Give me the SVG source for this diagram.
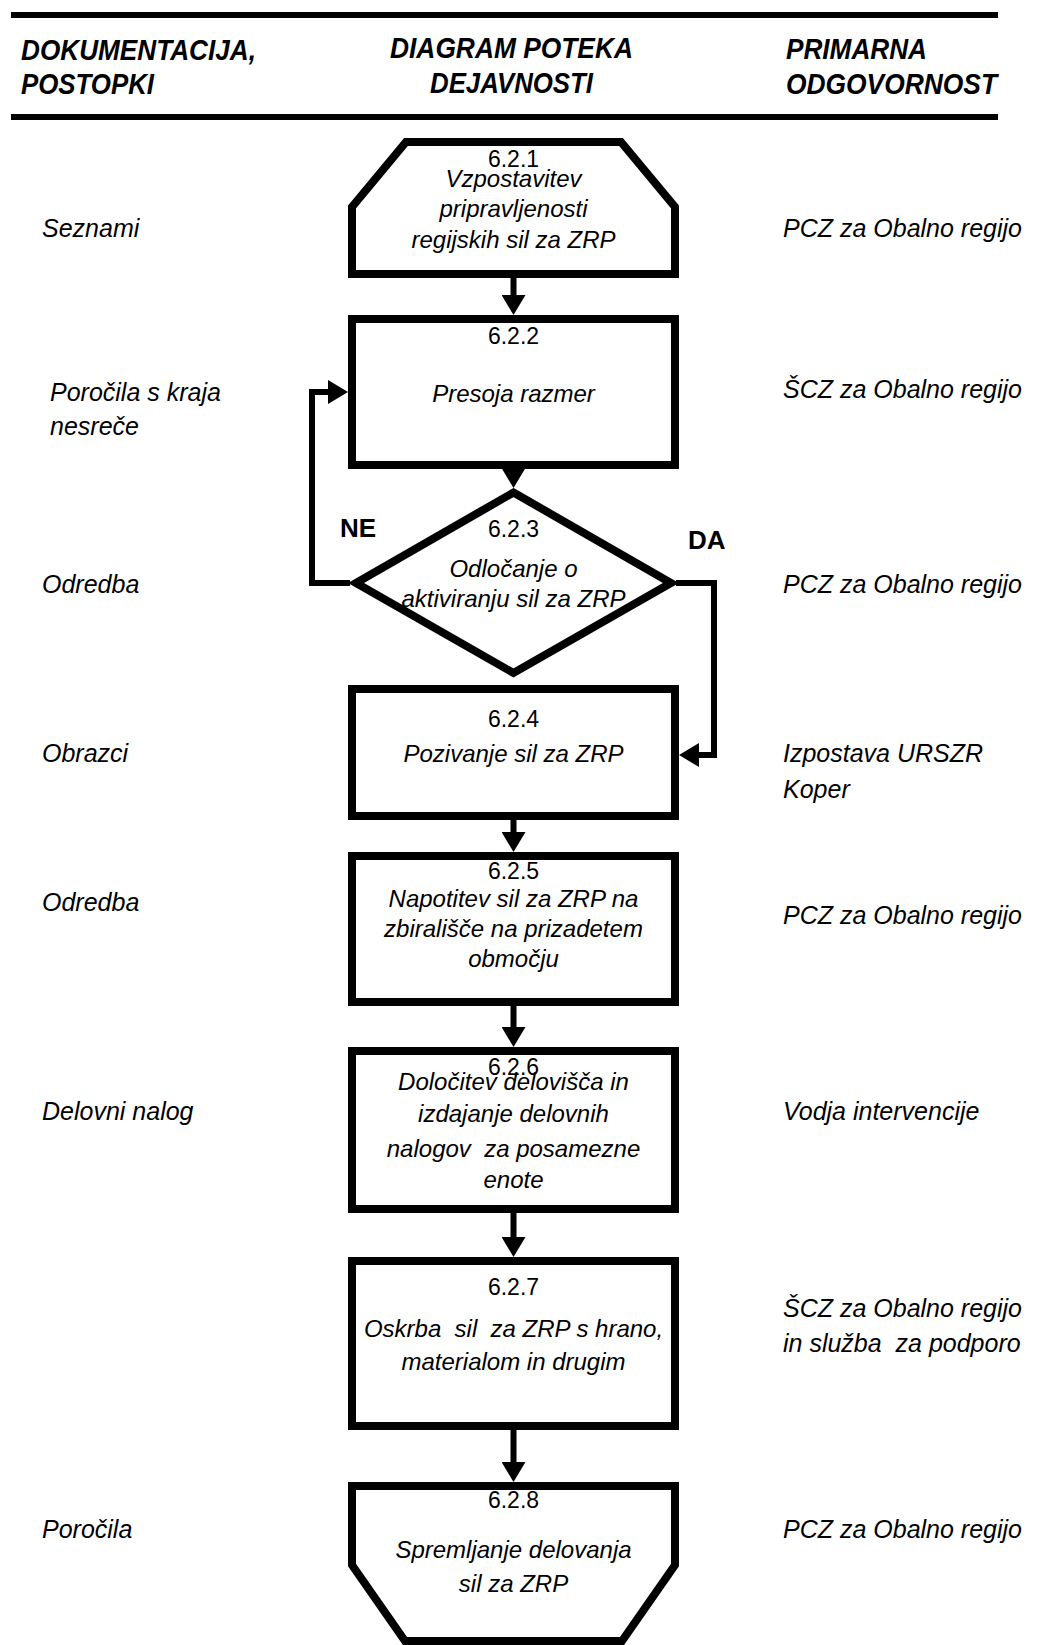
<svg xmlns="http://www.w3.org/2000/svg" width="1037" height="1645" viewBox="0 0 1037 1645">
<style>
text{font-family:"Liberation Sans",Arial,sans-serif;fill:#000}
.hd{font-size:30px;font-weight:bold;font-style:italic}
.col{font-size:25px;font-style:italic}
.nt{font-size:24px;font-style:italic;text-anchor:middle}
.num{font-size:23px;text-anchor:middle}
.lbl{font-size:26px;font-weight:bold}
.shape{fill:#fff;stroke:#000;stroke-width:8;stroke-linejoin:miter;stroke-miterlimit:10}
.con{fill:none;stroke:#000;stroke-width:6;stroke-linejoin:miter}
.rule{stroke:#000;stroke-width:6}
</style>
<defs>
<marker id="ah" markerUnits="userSpaceOnUse" markerWidth="21" markerHeight="24" refX="10" refY="12" orient="auto">
<path d="M0,0 L20,12 L0,24 z" fill="#000"/>
</marker>
</defs>
<rect width="1037" height="1645" fill="#fff"/>
<g id="header">
<line class="rule" x1="11" y1="15" x2="998" y2="15"/>
<line class="rule" x1="11" y1="117" x2="998" y2="117"/>
<text class="hd" x="21" y="60" textLength="235" lengthAdjust="spacingAndGlyphs">DOKUMENTACIJA,</text>
<text class="hd" x="21" y="94" textLength="133" lengthAdjust="spacingAndGlyphs">POSTOPKI</text>
<text class="hd" x="390" y="58" textLength="243" lengthAdjust="spacingAndGlyphs">DIAGRAM POTEKA</text>
<text class="hd" x="430" y="93" textLength="163" lengthAdjust="spacingAndGlyphs">DEJAVNOSTI</text>
<text class="hd" x="786" y="59" textLength="141" lengthAdjust="spacingAndGlyphs">PRIMARNA</text>
<text class="hd" x="786" y="94" textLength="211" lengthAdjust="spacingAndGlyphs">ODGOVORNOST</text>
</g>
<g id="connectors">
<line class="con" x1="513.5" y1="278" x2="513.5" y2="305" marker-end="url(#ah)"/>
<line class="con" x1="513.5" y1="469" x2="513.5" y2="478" marker-end="url(#ah)"/>
<polyline class="con" points="350,583 312,583 312,392 338,392" marker-end="url(#ah)"/>
<polyline class="con" points="676,583 714,583 714,755 689,755" marker-end="url(#ah)"/>
<line class="con" x1="513.5" y1="820" x2="513.5" y2="842" marker-end="url(#ah)"/>
<line class="con" x1="513.5" y1="1006" x2="513.5" y2="1037" marker-end="url(#ah)"/>
<line class="con" x1="513.5" y1="1213" x2="513.5" y2="1247" marker-end="url(#ah)"/>
<line class="con" x1="513.5" y1="1430" x2="513.5" y2="1472" marker-end="url(#ah)"/>
<text class="lbl" x="340" y="537">NE</text>
<text class="lbl" x="688" y="549">DA</text>
</g>
<g id="n621">
<polygon class="shape" points="352,274 352,207 406,142 621,142 675,207 675,274"/>
<text class="num" x="513.5" y="167">6.2.1</text>
<text class="nt" x="513.5" y="187">Vzpostavitev</text>
<text class="nt" x="513.5" y="217">pripravljenosti</text>
<text class="nt" x="513.5" y="248">regijskih sil za ZRP</text>
</g>
<g id="n622">
<rect class="shape" x="352" y="319" width="323" height="146"/>
<text class="num" x="513.5" y="344">6.2.2</text>
<text class="nt" x="513.5" y="402">Presoja razmer</text>
</g>
<g id="n623">
<polygon class="shape" points="513.5,492.5 671,583 513.5,673 356,583"/>
<text class="num" x="513.5" y="537">6.2.3</text>
<text class="nt" x="513.5" y="577">Odločanje o</text>
<text class="nt" x="513.5" y="607">aktiviranju sil za ZRP</text>
</g>
<g id="n624">
<rect class="shape" x="352" y="689" width="323" height="127"/>
<text class="num" x="513.5" y="727">6.2.4</text>
<text class="nt" x="513.5" y="762">Pozivanje sil za ZRP</text>
</g>
<g id="n625">
<rect class="shape" x="352" y="856" width="323" height="146"/>
<text class="num" x="513.5" y="879">6.2.5</text>
<text class="nt" x="513.5" y="907">Napotitev sil za ZRP na</text>
<text class="nt" x="513.5" y="937">zbirališče na prizadetem</text>
<text class="nt" x="513.5" y="967">območju</text>
</g>
<g id="n626">
<rect class="shape" x="352" y="1051" width="323" height="158"/>
<text class="num" x="513.5" y="1075">6.2.6</text>
<text class="nt" x="513.5" y="1090">Določitev delovišča in</text>
<text class="nt" x="513.5" y="1122">izdajanje delovnih</text>
<text class="nt" x="513.5" y="1157" xml:space="preserve">nalogov  za posamezne</text>
<text class="nt" x="513.5" y="1188">enote</text>
</g>
<g id="n627">
<rect class="shape" x="352" y="1261" width="323" height="165"/>
<text class="num" x="513.5" y="1295">6.2.7</text>
<text class="nt" x="513.5" y="1337" xml:space="preserve">Oskrba  sil  za ZRP s hrano,</text>
<text class="nt" x="513.5" y="1370">materialom in drugim</text>
</g>
<g id="n628">
<polygon class="shape" points="352,1486 675,1486 675,1565 622,1641 405,1641 352,1565"/>
<text class="num" x="513.5" y="1508">6.2.8</text>
<text class="nt" x="513.5" y="1558">Spremljanje delovanja</text>
<text class="nt" x="513.5" y="1592">sil za ZRP</text>
</g>
<g id="doc">
<text class="col" x="42" y="237">Seznami</text>
<text class="col" x="50" y="401">Poročila s kraja</text>
<text class="col" x="50" y="435">nesreče</text>
<text class="col" x="42" y="593">Odredba</text>
<text class="col" x="42" y="762">Obrazci</text>
<text class="col" x="42" y="911">Odredba</text>
<text class="col" x="42" y="1120">Delovni nalog</text>
<text class="col" x="42" y="1538">Poročila</text>
</g>
<g id="resp">
<text class="col" x="783" y="237">PCZ za Obalno regijo</text>
<text class="col" x="783" y="398">ŠCZ za Obalno regijo</text>
<text class="col" x="783" y="593">PCZ za Obalno regijo</text>
<text class="col" x="783" y="762">Izpostava URSZR</text>
<text class="col" x="783" y="798">Koper</text>
<text class="col" x="783" y="924">PCZ za Obalno regijo</text>
<text class="col" x="783" y="1120">Vodja intervencije</text>
<text class="col" x="783" y="1317">ŠCZ za Obalno regijo</text>
<text class="col" x="783" y="1352" xml:space="preserve">in služba  za podporo</text>
<text class="col" x="783" y="1538">PCZ za Obalno regijo</text>
</g>
</svg>
